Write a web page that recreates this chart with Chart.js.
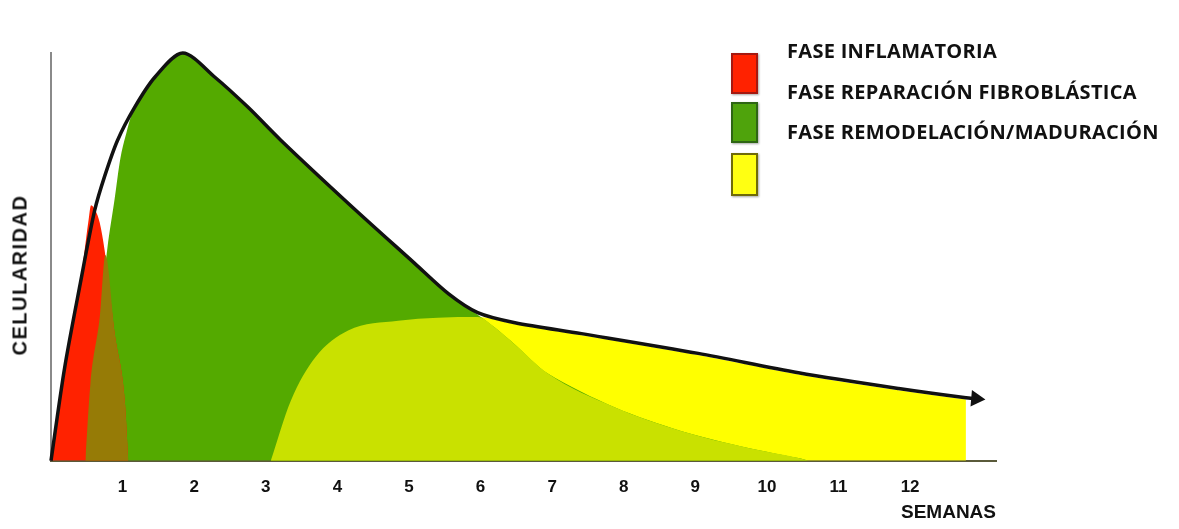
<!DOCTYPE html>
<html>
<head>
<meta charset="utf-8">
<script src="https://cdn.jsdelivr.net/npm/chart.js@4.4.1/dist/chart.umd.min.js"></script>
<style>
  body { margin: 0; background: #fff; }
  #wrap { position: relative; width: 1179px; height: 529px; }
  .box { position: absolute; left: 731px; width: 23px; height: 37px; box-shadow: 1px 1px 2px rgba(0,0,0,0.35); }
  .lbl { position: absolute; left: 787px; font: bold 20px "Open Sans", sans-serif; letter-spacing: 0.3px; color: #111; line-height: 22px; white-space: nowrap; }
  #ytitle { position: absolute; left: 20px; top: 275px; transform: translate(-50%, -50%) rotate(-90deg);
            font: bold 20px "Liberation Sans", Arial, sans-serif; letter-spacing: 1.5px; color: #111; white-space: nowrap; }
</style>
</head>
<body>
<div id="wrap">
  <canvas id="chart" width="1179" height="529"></canvas>
  <div id="ytitle">CELULARIDAD</div>
  <div class="box" style="top:53px; background:#ff2200; border:2px solid #a51810;"></div>
  <div class="box" style="top:102px; background:#4fa30c; border:2px solid #2e6514;"></div>
  <div class="box" style="top:153px; height:39px; background:#ffff12; border:2px solid #6f6a08;"></div>
  <div class="lbl" style="top:40px;">FASE INFLAMATORIA</div>
  <div class="lbl" style="top:81px;">FASE REPARACIÓN FIBROBLÁSTICA</div>
  <div class="lbl" style="top:121px;">FASE REMODELACIÓN/MADURACIÓN</div>
</div>
<script>
// semanas en el eje x
const weekTicks = [1, 2, 3, 4, 5, 6, 7, 8, 9, 10, 11, 12];

// curva total de celularidad (línea negra con flecha)
const envX = [0, 0.19, 0.41, 0.61, 0.75, 0.93, 1.17, 1.45, 1.84, 2.29, 2.75, 3.21, 4.15, 5.08, 5.55, 5.96, 6.48, 7.41, 9.04, 10.44, 11.84, 12.78, 12.92];
const envY = [0, 23, 44, 62, 70.5, 79.4, 87.6, 95, 101, 95, 87.6, 79.4, 63.8, 48.9, 41.4, 36.7, 34.2, 31.5, 26.6, 21.8, 17.9, 15.6, 15.4];

// fase inflamatoria (rojo)
const redX = [0, 0.19, 0.41, 0.52, 0.56, 0.62, 0.68, 0.75, 0.89, 1.03, 1.08];
const redY = [0, 23, 44, 59, 63.3, 62, 59, 52, 31.5, 15, 0];

// fase reparación fibroblástica (verde)
const greenX = [0.48, 0.55, 0.68, 0.79, 0.89, 0.97, 1.05, 1.17, 1.45, 1.84, 2.29, 2.75, 3.21, 4.15, 5.08, 5.55, 5.96, 6.2, 6.48, 6.94, 7.88, 8.8, 9.74, 10.44, 10.58];
const greenY = [0, 19, 35.5, 53, 65, 75, 81, 87.6, 95, 101, 95, 87.6, 79.4, 63.8, 48.9, 41.4, 36.2, 33, 28.8, 21.6, 13.2, 7.4, 3.2, 0.7, 0];

// fase remodelación / maduración (amarillo)
const yellowX = [3.07, 3.35, 3.69, 4.15, 4.85, 5.96, 6.48, 7.41, 9.04, 10.44, 11.84, 12.78];
const yellowY = [0, 14.9, 25.6, 32.3, 34.7, 35.6, 33.8, 31.1, 26.2, 21.4, 17.5, 15.2];

// zonas donde se solapan las fases
const oliveX = [0.48, 0.55, 0.68, 0.76, 0.89, 1.03, 1.08];
const oliveY = [0, 19, 35.5, 51, 31.5, 15, 0];
const limeX = [3.07, 3.35, 3.69, 4.15, 4.85, 5.96, 6.2, 6.48, 6.94, 7.88, 8.8, 9.74, 10.44, 10.58];
const limeY = [0, 14.9, 25.6, 32.3, 34.7, 35.6, 33, 28.8, 21.6, 13.2, 7.4, 3.2, 0.7, 0];

const pts = (xs, ys) => xs.map((x, i) => ({ x: x, y: ys[i] }));

function area(xs, ys, color) {
  return {
    data: pts(xs, ys),
    backgroundColor: color,
    borderWidth: 0,
    fill: 'origin',
    pointRadius: 0,
    cubicInterpolationMode: 'monotone',
    clip: false
  };
}

const lastEnv = envX.length - 1;

// el primer dataset se dibuja encima de los demás
const datasets = [
  {
    data: pts(envX, envY),
    borderColor: '#111',
    borderWidth: 3.5,
    fill: false,
    tension: 0.3,
    pointStyle: 'triangle',
    pointRadius: c => c.dataIndex === lastEnv ? 6 : 0,
    pointRotation: 95,
    pointBackgroundColor: '#111',
    pointBorderColor: '#111',
    clip: false
  },
  area(oliveX, oliveY, '#967b06'),
  area(redX, redY, '#ff2200'),
  area(limeX, limeY, '#c9e100'),
  area(greenX, greenY, '#54aa00'),
  area(yellowX, yellowY, '#ffff00')
];
datasets[4].tension = 0.3;
datasets[4].cubicInterpolationMode = 'default';

new Chart(document.getElementById('chart'), {
  type: 'line',
  data: { datasets: datasets },
  options: {
    responsive: false,
    animation: false,
    layout: { padding: { left: 51, top: 53, right: 183, bottom: 5 } },
    plugins: { legend: { display: false }, tooltip: { enabled: false } },
    scales: {
      x: {
        type: 'linear',
        min: 0,
        max: 13.2,
        afterBuildTicks: s => { s.ticks = weekTicks.map(v => ({ value: v })); },
        grid: { display: false, drawTicks: false },
        border: { display: true, color: '#5a5a3a', width: 2 },
        ticks: {
          padding: 16,
          color: '#111',
          font: { family: '"Liberation Sans Narrow", "Liberation Sans", sans-serif', weight: 'bold', size: 17 }
        },
        title: {
          display: true,
          text: 'SEMANAS',
          align: 'end',
          color: '#111',
          padding: { top: -12, bottom: 0 },
          font: { family: '"Liberation Sans Narrow", "Liberation Sans", sans-serif', weight: 'bold', size: 19 }
        }
      },
      y: {
        min: 0,
        max: 101,
        grid: { display: false, drawTicks: false },
        border: { display: true, color: '#8a8a8a', width: 2 },
        ticks: { display: false },
        title: { display: false }
      }
    }
  }
});
</script>
</body>
</html>
